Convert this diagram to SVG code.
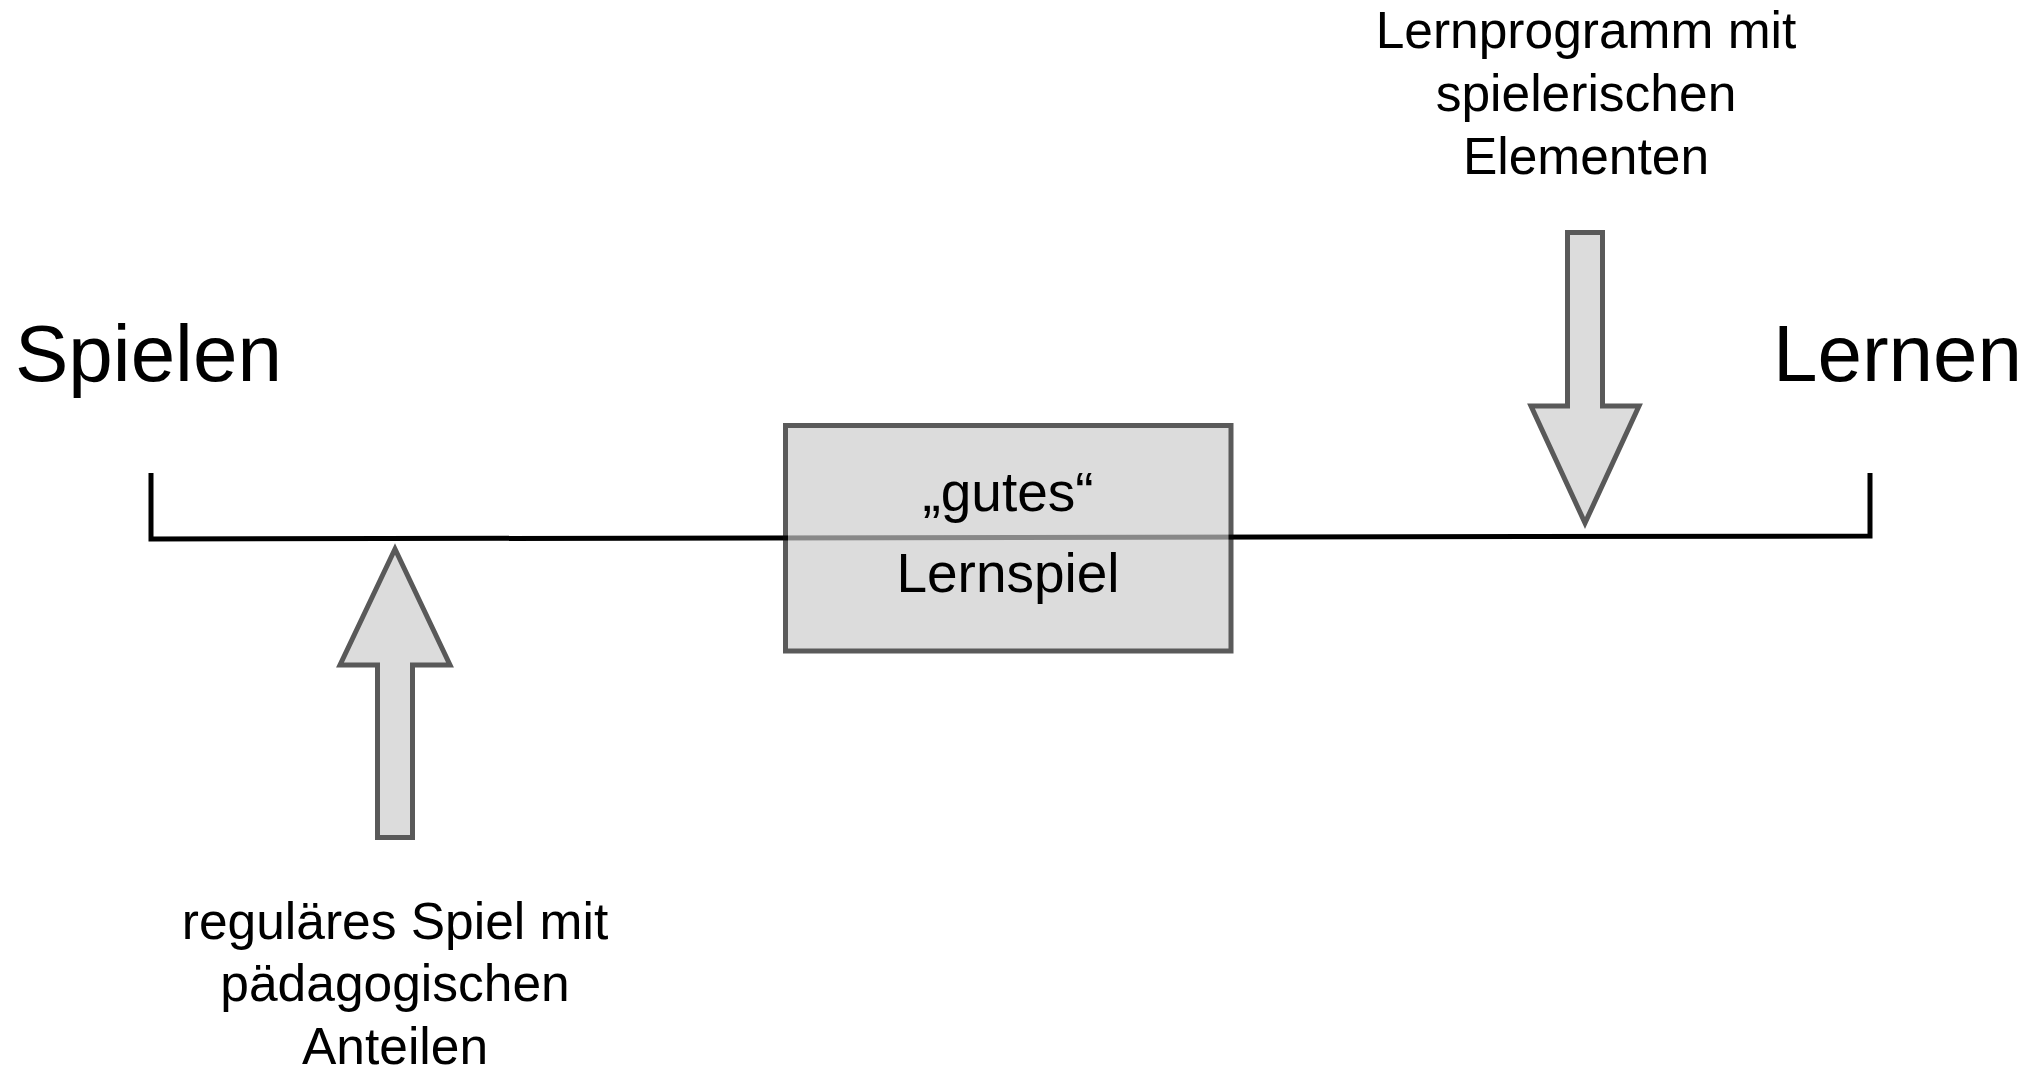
<svg xmlns="http://www.w3.org/2000/svg" width="2040" height="1071" viewBox="0 0 2040 1071">
  <style>
    .lbl { font-family: "Liberation Sans", Arial, Helvetica, sans-serif; fill: #000; }
    .big { font-size: 80px; }
    .mid { font-size: 55px; text-anchor: middle; }
    .small { font-size: 51.5px; text-anchor: middle; }
    .block { fill: #dcdcdc; stroke: #595959; stroke-width: 5; stroke-linejoin: miter; stroke-miterlimit: 10; }
  </style>
  <rect width="2040" height="1071" fill="#ffffff"/>

  <!-- scale axis with end brackets -->
  <g id="connectors">
    <path id="axis" d="M151,473 V539 L1870,536 V473" fill="none" stroke="#000" stroke-width="5"/>
    <!-- block arrow rising to the axis from below -->
    <polygon id="arrow-up" class="block" points="395,549 450,665 412.5,665 412.5,837.5 377.5,837.5 377.5,665 340,665"/>
    <!-- block arrow falling onto the axis from above -->
    <polygon id="arrow-down" class="block" points="1585,523 1639,406 1602.5,406 1602.5,232.5 1567.5,232.5 1567.5,406 1531,406"/>
  </g>

  <g id="node-spielen">
    <text class="lbl big" x="15" y="381">Spielen</text>
  </g>

  <g id="node-lernen">
    <text class="lbl big" x="2022" y="381" text-anchor="end">Lernen</text>
  </g>

  <g id="node-lernspiel">
    <!-- translucent box lets the axis show through -->
    <rect x="785.5" y="425.5" width="445.5" height="225.5" fill="#cbcbcb" stroke="#0a0a0a" stroke-width="5" opacity="0.67"/>
    <text class="lbl mid" x="1008" y="511">„gutes“</text>
    <text class="lbl mid" x="1008" y="592">Lernspiel</text>
  </g>

  <g id="node-lernprogramm">
    <text class="lbl small" x="1586" y="48">Lernprogramm mit</text>
    <text class="lbl small" x="1586" y="111">spielerischen</text>
    <text class="lbl small" x="1586" y="174">Elementen</text>
  </g>

  <g id="node-regulaeres-spiel">
    <text class="lbl small" x="395" y="939">reguläres Spiel mit</text>
    <text class="lbl small" x="395" y="1001">pädagogischen</text>
    <text class="lbl small" x="395" y="1064">Anteilen</text>
  </g>
</svg>
